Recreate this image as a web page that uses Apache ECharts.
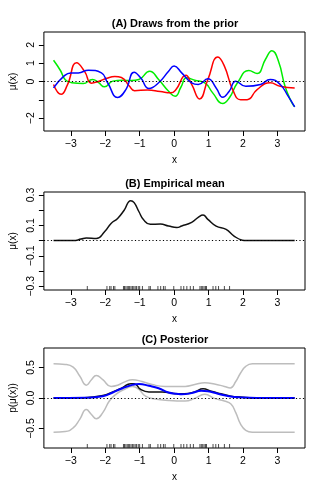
<!DOCTYPE html>
<html>
<head>
<meta charset="utf-8">
<script src="https://cdn.jsdelivr.net/npm/echarts@6.0.0/dist/echarts.min.js"></script>
<style>
  html, body { margin: 0; padding: 0; background: #fff; }
  #chart { width: 325px; height: 488px; }
</style>
</head>
<body>
<div id="chart"></div>
<script>
// (A) draws from the prior, [x, mu(x)]
const drawGreen = [[-3.5,1.16],[-3.3,0.6],[-3.16,0.1],[-2.97,-0.07],[-2.64,-0.11],[-2.37,0.11],[-2.2,-0.05],[-2.02,-0.29],[-1.78,0.02],[-1.5,0.07],[-1.25,0.05],[-1.02,0.11],[-0.71,0.56],[-0.45,0.11],[-0.16,-0.53],[0.03,-0.8],[0.2,-0.3],[0.36,0.2],[0.6,0.07],[0.89,-0.07],[1.12,-0.62],[1.41,-1.2],[1.6,-0.9],[1.84,-0.07],[2.17,0.6],[2.41,0.44],[2.65,1.2],[2.84,1.68],[3.03,1.11],[3.22,-0.26],[3.41,-1.13],[3.5,-1.38]];
const drawRed = [[-3.5,-0.16],[-3.28,-0.7],[-3.1,-0.2],[-2.83,1.02],[-2.6,0.55],[-2.4,-0.09],[-2.2,0.0],[-1.95,0.18],[-1.72,0.27],[-1.53,0.22],[-1.3,-0.25],[-1.15,-0.5],[-0.77,-0.46],[-0.4,-0.55],[-0.1,-0.62],[0.05,-0.45],[0.34,0.34],[0.51,-0.16],[0.74,-0.95],[0.98,0.11],[1.27,1.33],[1.46,0.84],[1.7,-0.44],[1.93,-0.99],[2.12,-0.99],[2.41,-0.44],[2.79,-0.07],[3.08,-0.26],[3.5,-0.35]];
const drawBlue = [[-3.5,-0.35],[-3.2,0.29],[-3.0,0.47],[-2.78,0.47],[-2.49,0.62],[-2.11,0.47],[-1.93,-0.07],[-1.64,-0.87],[-1.4,-0.44],[-1.16,0.51],[-0.97,0.2],[-0.73,-0.38],[-0.45,-0.07],[-0.16,0.56],[0.0,0.84],[0.22,0.47],[0.51,-0.07],[0.7,-0.16],[0.98,0.15],[1.22,-0.35],[1.41,-0.86],[1.6,-0.53],[1.79,0.02],[2.08,-0.26],[2.51,-0.16],[2.79,0.11],[3.08,-0.16],[3.31,-0.8],[3.5,-1.38]];

// (B) empirical mean
const empMean = [[-3.5,0],[-2.93,0],[-2.7,0.01],[-2.55,0.018],[-2.26,0.014],[-2.02,0.058],[-1.83,0.113],[-1.64,0.146],[-1.45,0.2],[-1.26,0.263],[-1.16,0.25],[-1.02,0.19],[-0.88,0.135],[-0.69,0.107],[-0.4,0.109],[-0.16,0.096],[0.08,0.086],[0.22,0.096],[0.51,0.12],[0.7,0.153],[0.84,0.168],[0.98,0.14],[1.22,0.096],[1.51,0.074],[1.74,0.03],[1.98,0.003],[2.1,0],[3.5,0]];

// (C) posterior
const postUpper = [[-3.5,0.56],[-3.16,0.55],[-2.93,0.505],[-2.74,0.36],[-2.55,0.21],[-2.4,0.3],[-2.26,0.37],[-2.07,0.3],[-1.83,0.19],[-1.64,0.21],[-1.45,0.26],[-1.21,0.3],[-0.93,0.27],[-0.64,0.22],[-0.26,0.19],[0.32,0.19],[0.6,0.22],[0.89,0.25],[1.17,0.23],[1.46,0.19],[1.63,0.166],[1.79,0.27],[1.93,0.41],[2.08,0.52],[2.27,0.56],[3.5,0.56]];
const postLower = [[-3.5,-0.56],[-3.16,-0.55],[-2.93,-0.49],[-2.74,-0.35],[-2.55,-0.19],[-2.4,-0.27],[-2.26,-0.34],[-2.07,-0.24],[-1.88,-0.05],[-1.69,0.06],[-1.45,0.14],[-1.21,0.19],[-1.02,0.14],[-0.83,0.03],[-0.55,-0.015],[-0.16,-0.04],[0.32,-0.05],[0.6,-0.006],[0.89,0.06],[1.17,-0.006],[1.46,-0.05],[1.65,-0.1],[1.79,-0.24],[1.93,-0.43],[2.08,-0.53],[2.27,-0.56],[3.5,-0.56]];
const postBlack = [[-3.5,0],[-2.6,0.005],[-2.07,0.04],[-1.78,0.1],[-1.5,0.17],[-1.26,0.235],[-1.16,0.235],[-0.97,0.14],[-0.73,0.1],[-0.35,0.1],[0.08,0.07],[0.3,0.07],[0.6,0.1],[0.84,0.15],[1.08,0.11],[1.36,0.07],[1.65,0.03],[1.93,0.015],[2.3,0],[3.5,0]];
const postBlue = [[-3.5,0],[-2.6,0.005],[-2.07,0.03],[-1.78,0.09],[-1.5,0.16],[-1.21,0.215],[-1.02,0.23],[-0.73,0.2],[-0.45,0.16],[-0.16,0.09],[0.08,0.07],[0.22,0.06],[0.51,0.08],[0.79,0.12],[0.98,0.11],[1.27,0.07],[1.6,0.03],[1.93,0.01],[2.4,0],[3.5,0]];

// observed x positions (rug)
const rugX = [-2.52,-1.95,-1.87,-1.83,-1.76,-1.72,-1.47,-1.44,-1.4,-1.36,-1.32,-1.29,-1.25,-1.21,-1.17,-1.13,-1.09,-1.04,-1.0,-0.92,-0.73,-0.69,-0.47,-0.39,-0.31,-0.26,-0.01,0.2,0.28,0.37,0.47,0.56,0.75,0.79,0.83,0.87,0.91,0.94,1.13,1.21,1.29,1.46,1.61];

const xTicks = [-3, -2, -1, 0, 1, 2, 3];
const titles = ['(A) Draws from the prior', '(B) Empirical mean', '(C) Posterior'];
const yNames = ['\u03bc(x)', '\u03bc(x)', 'p(\u03bc(x))'];
const yRange = [[-2.7, 2.7], [-0.325, 0.32], [-0.82, 0.82]];
const yTicks = [[-2, -1, 0, 1, 2], [-0.3, -0.2, -0.1, 0, 0.1, 0.2, 0.3], [-0.5, 0, 0.5]];
const yLabels = [[-2, 0, 1, 2], [-0.3, -0.1, 0.1, 0.3], [-0.5, 0, 0.5]];
const yDigits = [0, 1, 1];

const FONT = '"Liberation Sans", Arial, sans-serif';
const gridTops = [32, 192, 348];
const gridHeights = [99, 98, 100];

const minus = s => String(s).replace('-', '\u2212');

const chart = echarts.init(document.getElementById('chart'), null, { renderer: 'canvas' });

const grid = gridTops.map((t, i) => ({
  left: 40, right: 20, top: t, height: gridHeights[i],
  show: true, borderColor: '#000', borderWidth: 1, backgroundColor: 'transparent'
}));

const title = titles.map((t, i) => ({
  text: t, left: 170, top: gridTops[i] - 19, textAlign: 'center',
  textStyle: { fontFamily: FONT, fontSize: 11, fontWeight: 'bold', color: '#000' }
}));

const xAxis = gridTops.map((t, i) => ({
  type: 'value', gridIndex: i, min: -3.78, max: 3.8, position: 'bottom',
  name: 'x', nameLocation: 'middle', nameGap: 24,
  nameTextStyle: { fontFamily: FONT, fontSize: 10, color: '#000' },
  axisLine: { show: false, onZero: false },
  splitLine: { show: false },
  axisTick: { show: true, inside: false, length: 5, customValues: xTicks, lineStyle: { color: '#000' } },
  axisLabel: { customValues: xTicks, fontFamily: FONT, fontSize: 10.5, color: '#000', margin: 8,
               formatter: v => minus(v) }
}));

const yAxis = gridTops.map((t, i) => ({
  type: 'value', gridIndex: i, min: yRange[i][0], max: yRange[i][1], position: 'left',
  name: yNames[i], nameLocation: 'middle', nameGap: 24, nameRotate: 90,
  nameTextStyle: { fontFamily: FONT, fontSize: 10, color: '#000' },
  axisLine: { show: false, onZero: false },
  splitLine: { show: false },
  axisTick: { show: true, inside: false, length: 5, customValues: yTicks[i], lineStyle: { color: '#000' } },
  axisLabel: { customValues: yLabels[i], rotate: 90, fontFamily: FONT, fontSize: 10.5, color: '#000', margin: 7,
               formatter: v => minus(v.toFixed(yDigits[i])) }
}));

const zeroLine = {
  silent: true, symbol: 'none', label: { show: false },
  lineStyle: { type: [1.2, 2.3], color: '#000', width: 1 },
  data: [{ yAxis: 0 }]
};

function line(data, idx, color, width, withZero) {
  const s = {
    type: 'line', xAxisIndex: idx, yAxisIndex: idx, data: data,
    showSymbol: false, symbol: 'none', smooth: 0.5, clip: true,
    lineStyle: { color: color, width: width }, silent: true, animation: false
  };
  if (withZero) s.markLine = zeroLine;
  return s;
}

function rug(idx) {
  return {
    type: 'scatter', xAxisIndex: idx, yAxisIndex: idx,
    data: rugX.map(x => [x, yRange[idx][0]]),
    symbol: 'rect', symbolSize: [1, 4], symbolOffset: [0, -2],
    itemStyle: { color: '#222' }, silent: true, animation: false
  };
}

chart.setOption({
  animation: false,
  backgroundColor: '#fff',
  title: title,
  grid: grid,
  xAxis: xAxis,
  yAxis: yAxis,
  series: [
    line(drawGreen, 0, '#00ee00', 1.5, true),
    line(drawRed, 0, '#ff0000', 1.5, false),
    line(drawBlue, 0, '#0000ff', 1.5, false),
    line(empMean, 1, '#111', 1.5, true),
    rug(1),
    line(postUpper, 2, '#bdbdbd', 1.5, true),
    line(postLower, 2, '#bdbdbd', 1.5, false),
    line(postBlack, 2, '#111', 1.5, false),
    line(postBlue, 2, '#0000ff', 2, false),
    rug(2)
  ]
});
</script>
</body>
</html>
